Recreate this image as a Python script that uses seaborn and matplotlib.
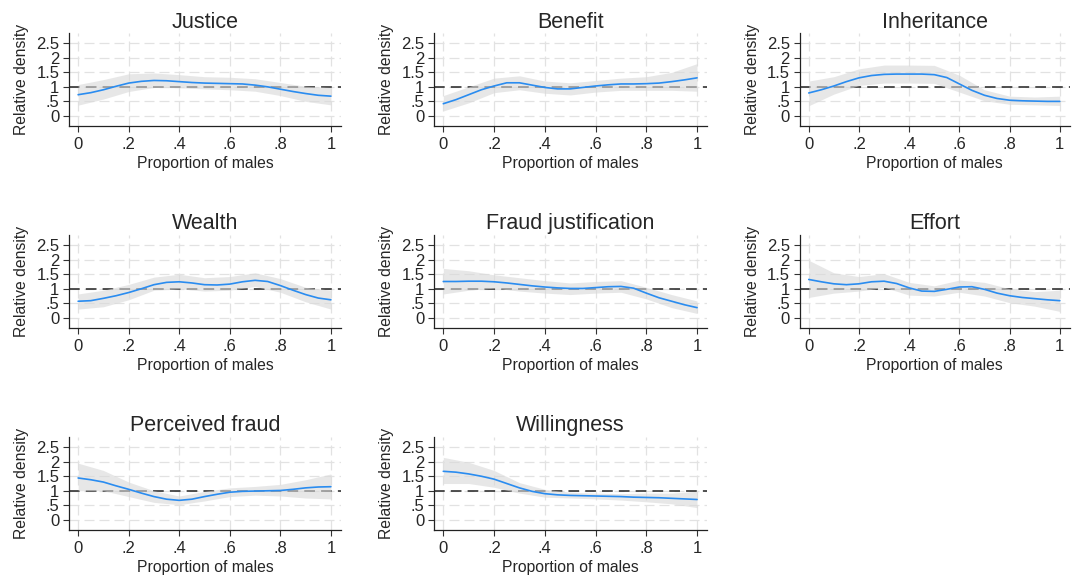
import numpy as np
import pandas as pd
import seaborn as sns
import matplotlib.pyplot as plt

# data (relative density vs proportion of males)
titles = ["Justice", "Benefit", "Inheritance", "Wealth", "Fraud justification",
          "Effort", "Perceived fraud", "Willingness"]
x_fine = [0, .05, .1, .15, .2, .25, .3, .35, .4, .45, .5, .55, .6, .65, .7, .75, .8, .85, .9, .95, 1]
x_band = [0, .1, .2, .3, .4, .5, .6, .7, .8, .9, 1]

justice = [0.73, 0.80, 0.90, 1.02, 1.13, 1.19, 1.22, 1.21, 1.18, 1.15, 1.13, 1.12, 1.11, 1.10, 1.06, 1.00, 0.92, 0.84, 0.77, 0.71, 0.68]
justice_lo = [0.37, 0.58, 0.84, 0.98, 0.97, 0.93, 0.90, 0.85, 0.70, 0.50, 0.38]
justice_hi = [1.08, 1.25, 1.45, 1.48, 1.42, 1.35, 1.33, 1.28, 1.15, 1.02, 0.98]

benefit = [0.42, 0.56, 0.73, 0.90, 1.03, 1.14, 1.14, 1.06, 0.98, 0.93, 0.93, 0.98, 1.03, 1.07, 1.10, 1.10, 1.11, 1.13, 1.18, 1.24, 1.31]
benefit_lo = [0.17, 0.45, 0.80, 0.90, 0.78, 0.72, 0.82, 0.88, 0.88, 0.88, 0.85]
benefit_hi = [0.70, 1.00, 1.30, 1.38, 1.20, 1.14, 1.22, 1.30, 1.35, 1.50, 1.80]

inheritance = [0.79, 0.90, 1.03, 1.18, 1.31, 1.39, 1.43, 1.44, 1.44, 1.44, 1.42, 1.32, 1.10, 0.88, 0.71, 0.60, 0.54, 0.52, 0.51, 0.50, 0.50]
inheritance_lo = [0.35, 0.75, 1.05, 1.13, 1.13, 1.12, 0.82, 0.52, 0.40, 0.38, 0.36]
inheritance_hi = [1.20, 1.35, 1.62, 1.75, 1.75, 1.74, 1.40, 0.90, 0.68, 0.65, 0.68]

wealth = [0.57, 0.59, 0.67, 0.76, 0.87, 1.00, 1.14, 1.22, 1.24, 1.20, 1.14, 1.13, 1.16, 1.24, 1.29, 1.25, 1.11, 0.95, 0.80, 0.68, 0.62]
wealth_lo = [0.30, 0.38, 0.62, 0.95, 1.00, 0.92, 0.95, 1.08, 0.88, 0.55, 0.30]
wealth_hi = [0.82, 0.95, 1.15, 1.40, 1.50, 1.38, 1.42, 1.55, 1.35, 1.05, 0.95]

fraud_just = [1.25, 1.25, 1.26, 1.26, 1.24, 1.20, 1.15, 1.10, 1.06, 1.03, 1.01, 1.01, 1.04, 1.07, 1.08, 1.02, 0.85, 0.69, 0.57, 0.45, 0.35]
fraud_just_lo = [0.82, 0.95, 1.02, 0.92, 0.85, 0.80, 0.85, 0.88, 0.65, 0.35, 0.15]
fraud_just_hi = [1.70, 1.62, 1.48, 1.38, 1.28, 1.20, 1.25, 1.28, 1.05, 0.80, 0.58]

effort = [1.32, 1.24, 1.17, 1.14, 1.17, 1.24, 1.26, 1.18, 1.03, 0.92, 0.91, 0.98, 1.06, 1.07, 0.98, 0.85, 0.76, 0.70, 0.66, 0.62, 0.59]
effort_lo = [0.70, 0.85, 0.92, 1.05, 0.78, 0.75, 0.88, 0.75, 0.52, 0.40, 0.22]
effort_hi = [1.98, 1.55, 1.42, 1.52, 1.22, 1.10, 1.30, 1.22, 1.00, 0.90, 0.95]

perceived = [1.44, 1.38, 1.30, 1.17, 1.05, 0.92, 0.80, 0.71, 0.67, 0.71, 0.80, 0.88, 0.95, 0.98, 0.99, 1.00, 1.01, 1.05, 1.10, 1.13, 1.14]
perceived_lo = [1.00, 1.00, 0.80, 0.60, 0.52, 0.65, 0.80, 0.85, 0.82, 0.75, 0.72]
perceived_hi = [1.95, 1.70, 1.30, 1.00, 0.82, 0.98, 1.10, 1.15, 1.22, 1.38, 1.58]

willing = [1.67, 1.64, 1.58, 1.50, 1.40, 1.25, 1.10, 0.98, 0.90, 0.86, 0.84, 0.83, 0.82, 0.81, 0.80, 0.78, 0.77, 0.76, 0.74, 0.72, 0.70]
willing_lo = [1.25, 1.25, 1.12, 0.92, 0.78, 0.75, 0.72, 0.68, 0.62, 0.55, 0.42]
willing_hi = [2.15, 1.98, 1.70, 1.28, 1.05, 0.95, 0.92, 0.90, 0.92, 0.92, 0.98]

curves = [justice, benefit, inheritance, wealth, fraud_just, effort, perceived, willing]
lows = [justice_lo, benefit_lo, inheritance_lo, wealth_lo, fraud_just_lo, effort_lo, perceived_lo, willing_lo]
highs = [justice_hi, benefit_hi, inheritance_hi, wealth_hi, fraud_just_hi, effort_hi, perceived_hi, willing_hi]

x_ticks = [0, .2, .4, .6, .8, 1]
x_ticklabels = ["0", ".2", ".4", ".6", ".8", "1"]
y_ticks = [0, .5, 1, 1.5, 2, 2.5]
y_ticklabels = ["0", ".5", "1", "1.5", "2", "2.5"]

df = pd.DataFrame({
    "panel": np.repeat(titles, len(x_fine)),
    "x": x_fine * len(titles),
    "y": np.concatenate(curves),
})

sns.set_style("white")
plt.rcParams["font.family"] = ["Liberation Sans", "DejaVu Sans"]

fig = plt.figure(figsize=(10.72, 5.81), dpi=100)
lefts = [0.0644, 0.405, 0.746]
widths = [0.2537, 0.2547, 0.252]
bottoms = [0.783, 0.4355, 0.0878]
height = 0.160

for i, t in enumerate(titles):
    r, c = divmod(i, 3)
    ax = fig.add_axes([lefts[c], bottoms[r], widths[c], height])
    ax.set_xlim(-0.036, 1.04)
    ax.set_ylim(-0.35, 2.85)
    for v in x_ticks:
        ax.axvline(v, color="#e2e2e2", lw=0.9, ls=(0, (8, 4)), zorder=0)
    for v in y_ticks:
        ax.axhline(v, color="#e2e2e2", lw=0.9, ls=(0, (8, 4)), zorder=0)
    ax.axhline(1, color="#222222", lw=1.1, ls=(0, (7, 4)), zorder=1)
    ax.fill_between(x_band, lows[i], highs[i], color="#d8d8d8", alpha=0.6, lw=0, zorder=2)
    sns.lineplot(data=df[df["panel"] == t], x="x", y="y", ax=ax, color="#2a8cf0", lw=1.2, zorder=3)
    ax.set_title(t, fontsize=15.5, pad=4)
    ax.set_xticks(x_ticks)
    ax.set_xticklabels(x_ticklabels, fontsize=12)
    ax.set_yticks(y_ticks)
    ax.set_yticklabels(y_ticklabels, fontsize=12)
    ax.tick_params(axis="x", length=4, width=0.8, color="#333333", pad=4, bottom=True)
    ax.tick_params(axis="y", length=4, width=0.8, color="#333333", pad=3, left=True)
    ax.set_xlabel("Proportion of males", fontsize=11.3, labelpad=3)
    ax.set_ylabel("Relative density", fontsize=11.3, labelpad=5)
    for s in ["top", "right"]:
        ax.spines[s].set_visible(False)
    for s in ["left", "bottom"]:
        ax.spines[s].set_color("#222222")
        ax.spines[s].set_linewidth(0.9)

fig.savefig("out.png", dpi=100, facecolor="white")
